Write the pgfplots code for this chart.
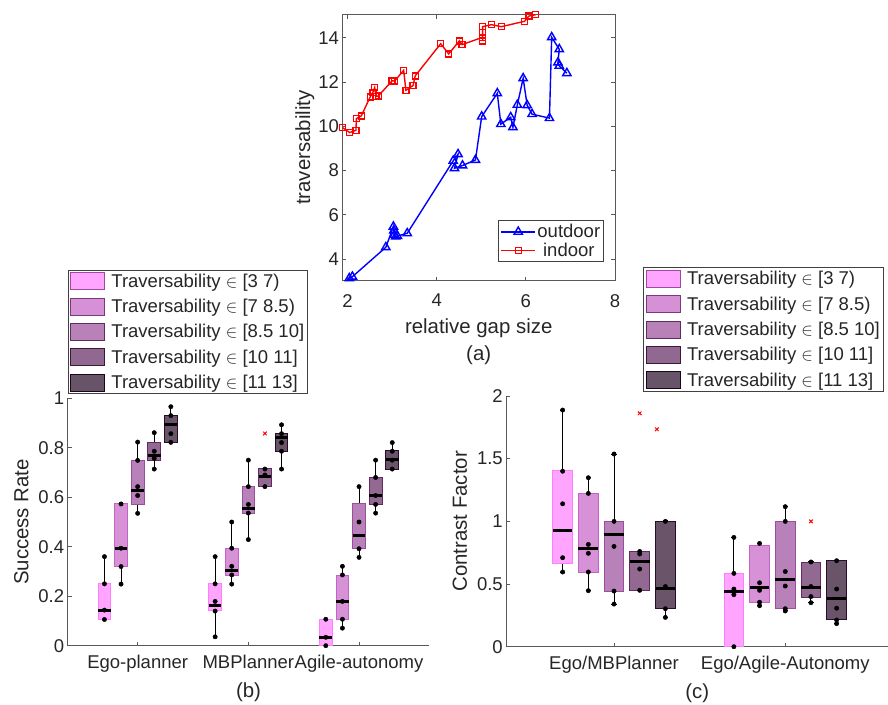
\documentclass[border=0pt]{standalone}
\usepackage{pgfplots}
\pgfplotsset{compat=1.18}
\usepgfplotslibrary{statistics}
\usepackage{fontspec}
\setmainfont{Liberation Sans}
\definecolor{txt}{RGB}{38,38,38}
\definecolor{axc}{RGB}{89,89,89}
\definecolor{ca}{RGB}{255,126,255}
\definecolor{cb}{RGB}{198,98,198}
\definecolor{cc}{RGB}{155,76,155}
\definecolor{cd}{RGB}{98,41,98}
\definecolor{ce}{RGB}{41,12,41}
\newcommand{\tickf}{\fontsize{18.5}{21}\selectfont}
\newcommand{\labf}{\fontsize{20.4}{27}\selectfont}
% box: color, position, lower whisker, Q1, median, Q3, upper whisker
\newcommand{\bx}[7]{\addplot[forget plot, boxplot prepared={draw direction=y, draw position=#2, box extend=0.115, whisker extend=0.03, lower whisker=#3, lower quartile=#4, median=#5, upper quartile=#6, upper whisker=#7, every box/.style={fill=#1, fill opacity=0.7, draw=#1, line width=0.9pt}, every median/.style={black, line width=3pt}, every whisker/.style={black, line width=1pt}}] coordinates {};}
\newcommand{\legbox}[2]{\addlegendimage{legend image code/.code={\draw[fill=#1, fill opacity=0.7, draw=#1!60!black, line width=0.8pt] (0pt,-8.5pt) rectangle (34pt,8.5pt); \path (39pt,0pt);}}\addlegendentry{Traversability $\in$ #2}}
\pgfplotsset{
  common/.style={scale only axis, tick label style={font=\tickf, text=txt}, label style={font=\labf, text=txt},
    /pgf/number format/assume math mode=true, axis line style={axc, line width=0.9pt}, every tick/.style={axc, line width=0.9pt},
    major tick length=4pt, tick align=inside},
  boxax/.style={common, axis x line*=bottom, axis y line*=left, xtick pos=bottom, ytick pos=left,
    xticklabel style={yshift=-6pt}, xlabel style={yshift=-3pt}, ylabel shift=3pt,
    legend cell align=left,
    legend style={font=\tickf, text=txt, draw=black!75, line width=0.8pt, at={(0,1.017)}, anchor=south west, row sep=7.5pt, inner sep=2pt, nodes={inner sep=1.5pt}}},
}
\begin{document}
\begin{tikzpicture}
\useasboundingbox (0pt,0pt) rectangle (888pt,-704pt);
% ---------------- (a)
\begin{axis}[common, at={(342.4pt,-280.7pt)}, anchor=south west, width=272.6pt, height=266pt,
  xmin=1.886, xmax=8, ymin=3.03, ymax=15.04, xtick={2,4,6,8}, ytick={4,6,8,10,12,14},
  xticklabel style={yshift=-10pt},
  xlabel={relative gap size\\(a)}, xlabel style={align=center, yshift=-5pt}, ylabel={traversability}, ylabel shift=-3pt,
  legend style={font=\tickf, text=txt, draw=black!75, line width=0.8pt, at={(0.96,0.07)}, anchor=south east, row sep=1pt, inner sep=2pt, nodes={inner sep=1.5pt}},
  legend image code/.code={\draw[mark repeat=2, mark phase=2, #1] plot coordinates {(0pt,0pt) (17pt,0pt) (34pt,0pt)};}]
\addplot[blue, line width=1.4pt, mark=triangle, mark size=4.8pt, mark options={solid, fill=none}] coordinates {
(2.04,3.14)(2.11,3.21)(2.86,4.54)(3.03,5.47)(3.04,5.30)(3.05,5.10)(3.08,5.02)(3.12,5.05)(3.34,5.17)
(4.37,8.44)(4.48,8.74)(4.40,8.11)(4.58,8.23)(4.87,8.48)(5.01,10.44)(5.36,11.49)(5.44,10.10)
(5.66,10.41)(5.71,9.96)(5.81,10.97)(5.94,12.17)(6.03,10.95)(6.14,10.55)(6.53,10.37)(6.58,14.02)
(6.75,13.48)(6.72,12.88)(6.75,12.73)(6.92,12.40)};
\addlegendentry{outdoor}
\addplot[red, line width=1.4pt, mark=square, mark size=3pt, mark options={solid, fill=none}] coordinates {
(1.89,9.94)(2.05,9.72)(2.19,9.82)(2.20,10.35)(2.31,10.47)(2.51,11.33)(2.57,11.54)(2.61,11.75)
(2.64,11.34)(2.69,11.37)(3.00,12.05)(3.06,12.05)(3.26,12.53)(3.31,11.63)(3.47,11.84)(3.52,12.28)
(4.09,13.73)(4.27,13.27)(4.51,13.86)(4.57,13.69)(5.03,14.02)(5.03,13.86)(5.03,14.23)(5.03,14.50)
(5.23,14.59)(5.45,14.50)(5.97,14.74)(6.07,14.98)(6.22,15.04)};
\addlegendentry{indoor}
\end{axis}
% ---------------- (b)
\begin{axis}[boxax, at={(67.7pt,-645.7pt)}, anchor=south west, width=361.6pt, height=247.4pt,
  xmin=0.368, xmax=3.635, ymin=0, ymax=1, xtick={1,2,3}, xticklabels={Ego-planner,MBPlanner,Agile-autonomy},
  ytick={0,0.2,0.4,0.6,0.8,1}, xlabel={(b)}, ylabel={Success Rate}]
\legbox{ca}{[3 7)}
\legbox{cb}{[7 8.5)}
\legbox{cc}{[8.5 10]}
\legbox{cd}{[10 11]}
\legbox{ce}{[11 13]}
\addplot[forget plot, only marks, mark=*, mark size=2.2pt, black] coordinates {
(0.7,0.36)(0.7,0.25)(0.7,0.144)(0.7,0.106)(0.85,0.573)(0.85,0.394)(0.85,0.32)(0.85,0.249)
(1,0.823)(1,0.749)(1,0.643)(1,0.607)(1,0.535)(1.15,0.861)(1.15,0.786)(1.15,0.757)(1.15,0.714)
(1.3,0.966)(1.3,0.93)(1.3,0.857)(1.3,0.822)
(1.7,0.36)(1.7,0.25)(1.7,0.179)(1.7,0.14)(1.7,0.036)(1.85,0.5)(1.85,0.394)(1.85,0.321)(1.85,0.286)(1.85,0.249)
(2,0.75)(2,0.643)(2,0.571)(2,0.536)(2,0.429)(2.15,0.714)(2.15,0.69)(2.15,0.643)
(2.3,0.893)(2.3,0.857)(2.3,0.821)(2.3,0.786)(2.3,0.714)
(2.7,0.107)(2.7,0.034)(2.7,0)(2.85,0.321)(2.85,0.286)(2.85,0.179)(2.85,0.107)(2.85,0.071)
(3,0.643)(3,0.5)(3,0.392)(3,0.357)(3.15,0.75)(3.15,0.68)(3.15,0.607)(3.15,0.571)(3.15,0.536)
(3.3,0.821)(3.3,0.786)(3.3,0.75)(3.3,0.714)};
\bx{ca}{0.7}{0.106}{0.106}{0.144}{0.252}{0.36}
\bx{cb}{0.85}{0.249}{0.32}{0.394}{0.573}{0.573}
\bx{cc}{1.0}{0.535}{0.571}{0.627}{0.749}{0.823}
\bx{cd}{1.15}{0.714}{0.749}{0.767}{0.822}{0.861}
\bx{ce}{1.3}{0.822}{0.822}{0.894}{0.931}{0.966}
\bx{ca}{1.7}{0.036}{0.144}{0.162}{0.252}{0.36}
\bx{cb}{1.85}{0.249}{0.283}{0.305}{0.394}{0.501}
\bx{cc}{2.0}{0.429}{0.535}{0.555}{0.643}{0.751}
\bx{cd}{2.15}{0.643}{0.643}{0.682}{0.716}{0.716}
\bx{ce}{2.3}{0.714}{0.786}{0.841}{0.858}{0.896}
\bx{ca}{2.7}{0}{0}{0.034}{0.108}{0.108}
\bx{cb}{2.85}{0.073}{0.106}{0.178}{0.283}{0.323}
\bx{cc}{3.0}{0.358}{0.392}{0.447}{0.573}{0.643}
\bx{cd}{3.15}{0.535}{0.571}{0.609}{0.68}{0.751}
\bx{ce}{3.3}{0.714}{0.714}{0.751}{0.788}{0.823}
\addplot[forget plot, only marks, mark=x, mark size=2.5pt, red, line width=1pt] coordinates {(2.15,0.858)};
\end{axis}
% ---------------- (c)
\begin{axis}[boxax, at={(506.3pt,-646.7pt)}, anchor=south west, width=381.7pt, height=250.7pt,
  xmin=0.371, xmax=2.6, ymin=0, ymax=2, xtick={1,2}, xticklabels={Ego/MBPlanner,Ego/Agile-Autonomy},
  ytick={0,0.5,1,1.5,2}, xlabel={(c)}, ylabel={Contrast Factor},
  legend style={at={(0.359,1.017)}, anchor=south west}]
\legbox{ca}{[3 7)}
\legbox{cb}{[7 8.5)}
\legbox{cc}{[8.5 10]}
\legbox{cd}{[10 11]}
\legbox{ce}{[11 13]}
\addplot[forget plot, only marks, mark=*, mark size=2.2pt, black] coordinates {
(0.7,1.888)(0.7,1.40)(0.7,1.14)(0.7,0.71)(0.7,0.596)(0.85,1.348)(0.85,1.223)(0.85,0.816)(0.85,0.745)(0.85,0.596)(0.85,0.447)
(1,1.537)(1,1.0)(1,0.8)(1,0.444)(1,0.34)(1.15,0.76)(1.15,0.74)(1.15,0.62)(1.15,0.45)(1.3,1.0)(1.3,0.48)(1.3,0.303)(1.3,0.234)
(1.7,0.872)(1.7,0.585)(1.7,0.46)(1.7,0.415)(1.7,0)(1.85,0.824)(1.85,0.51)(1.85,0.45)(1.85,0.355)(1.85,0.327)
(2,1.117)(2,1.0)(2,0.6)(2,0.484)(2,0.303)(2,0.285)(2.15,0.676)(2.15,0.48)(2.15,0.40)(2.15,0.351)
(2.3,0.686)(2.3,0.46)(2.3,0.307)(2.3,0.213)(2.3,0.184)};
\bx{ca}{0.7}{0.596}{0.665}{0.931}{1.407}{1.888}
\bx{cb}{0.85}{0.447}{0.596}{0.785}{1.223}{1.348}
\bx{cc}{1.0}{0.34}{0.444}{0.899}{1.003}{1.537}
\bx{cd}{1.15}{0.452}{0.452}{0.681}{0.761}{0.761}
\bx{ce}{1.3}{0.234}{0.303}{0.465}{1.003}{1.003}
\bx{ca}{1.7}{0}{0}{0.439}{0.585}{0.872}
\bx{cb}{1.85}{0.327}{0.351}{0.476}{0.806}{0.824}
\bx{cc}{2.0}{0.285}{0.303}{0.54}{1.0}{1.117}
\bx{cd}{2.15}{0.351}{0.394}{0.471}{0.676}{0.676}
\bx{ce}{2.3}{0.184}{0.221}{0.386}{0.686}{0.686}
\addplot[forget plot, only marks, mark=x, mark size=2.5pt, red, line width=1pt] coordinates {(1.15,1.862)(1.25,1.734)(2.15,1.0)};
\end{axis}
\end{tikzpicture}
\end{document}
